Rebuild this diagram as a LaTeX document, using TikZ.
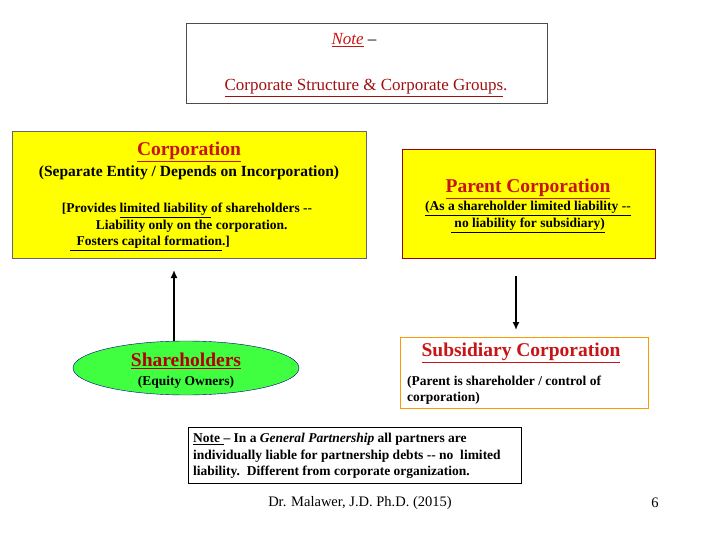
\documentclass[tikz,border=0pt]{standalone}
\usepackage{fontspec}
\setmainfont{Liberation Serif}
\newcommand{\ul}[1]{\underline{#1}}
\usetikzlibrary{shapes.geometric,arrows.meta}
\definecolor{ttl}{RGB}{200,20,20}
\definecolor{ylw}{RGB}{255,255,0}
\tikzset{box/.style={draw,line width=1pt},tx/.style={inner sep=0pt,align=center,font=\bfseries\fontsize{13.5}{16.5}\selectfont},
hd/.style={inner sep=0pt,text=ttl,font=\bfseries\fontsize{19.5}{22}\selectfont},arr/.style={-{Latex[length=8pt,width=7pt]},line width=1.5pt}}
\begin{document}
\begin{tikzpicture}[x=1pt,y=-1pt]
\useasboundingbox (0,0) rectangle (720,540);
\draw[box,black!70] (186,24) rectangle (547,104);
\node[inner sep=0pt,font=\fontsize{17}{20}\selectfont] (n1) at (354,40) {\textcolor{ttl}{\ul{\textit{Note}}} –};
\node[inner sep=0pt,font=\fontsize{17}{20}\selectfont,text=ttl!80!black] (n2) at (366,88) {\ul{Corporate Structure \& Corporate Groups}.};
\draw[box,fill=ylw,draw=black!60] (12,132) rectangle (366,258);
\node[hd] (c1) at (189,152) {\ul{Corporation}};
\node[tx,font=\bfseries\fontsize{15.5}{18}\selectfont] (c2) at (189,173) {(Separate Entity / Depends on Incorporation)};
\node[tx,align=left] (c3) at (187,227) {[Provides \ul{limited liability }of shareholders -{}-\\
\hspace{34pt}Liability only on the corporation.\\
\hspace{8pt}\ul{\ \ Fosters capital formation}.]};
\draw[box,fill=ylw,draw=red!60!black] (402,150) rectangle (655,258);
\node[hd] (p1) at (528,189) {\ul{Parent Corporation}};
\node[tx] (p2) at (528,217) {\ul{(As a shareholder limited liability -{}-}\\\ul{\ no liability for subsidiary)}};
\node[ellipse,draw=blue!50!black,fill=green!75!white,minimum width=226pt,minimum height=54pt,inner sep=0pt] (e) at (186,368) {};
\node[hd,text=red!70!black] (s1) at (186,361) {\ul{Shareholders}};
\node[tx] (s2) at (186,382) {(Equity Owners)};
\draw[arr] (174,341) -- (174,270);
\draw[box,draw=orange!80!yellow,fill=white] (400,337) rectangle (648,408);
\node[hd] (b1) at (521,353) {\ul{Subsidiary Corporation}};
\node[tx,align=left,anchor=west] (b2) at (407,390) {(Parent is shareholder / control of\\corporation)};
\draw[arr] (516,276) -- (516,330);
\draw[box] (188,427) rectangle (521,483);
\node[tx,align=left,anchor=west] (m) at (193,456) {\ul{Note }– In a \textit{General Partnership} all partners are\\individually liable for partnership debts -{}- no\ \ limited\\liability.\ \ Different from corporate organization.};
\node[inner sep=0pt,font=\fontsize{14.5}{17}\selectfont] (f) at (360,503) {Dr. Malawer, J.D. Ph.D. (2015)};
\node[inner sep=0pt,font=\fontsize{14.5}{17}\selectfont] (pg) at (655,503) {6};
\end{tikzpicture}
\end{document}
